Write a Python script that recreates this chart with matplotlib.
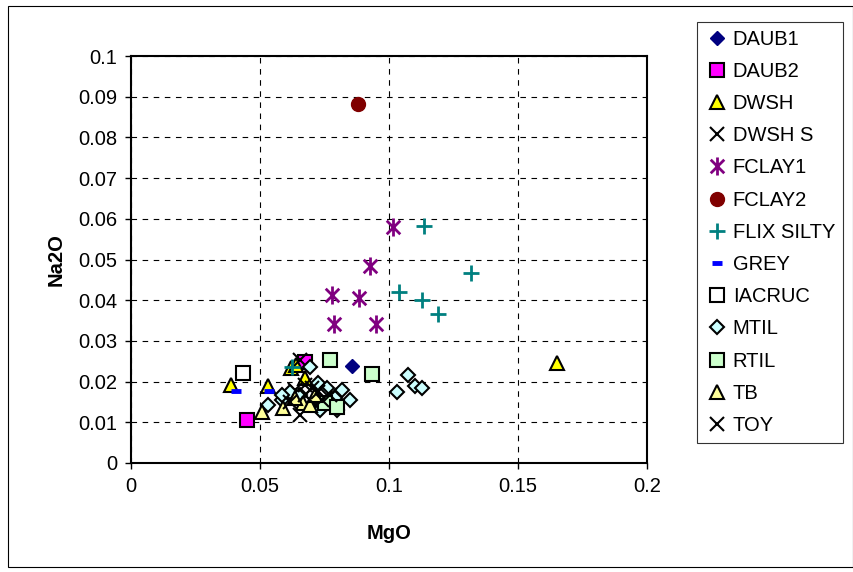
import matplotlib
matplotlib.use("Agg")
import matplotlib.pyplot as plt
from matplotlib.path import Path
from matplotlib.patches import Rectangle

plt.rcParams['font.family'] = ['Liberation Sans', 'DejaVu Sans']

# ---- data ----
daub1_x = [0.0857]
daub1_y = [0.0238]
daub2_x = [0.045, 0.0674]
daub2_y = [0.0106, 0.0248]
dwsh_x = [0.165, 0.0388, 0.0531, 0.0620, 0.0674, 0.0640]
dwsh_y = [0.0245, 0.0192, 0.0189, 0.0233, 0.0209, 0.0240]
dwshs_x = [0.0655, 0.0655, 0.0636, 0.0694, 0.0752, 0.0713]
dwshs_y = [0.0253, 0.0118, 0.0179, 0.0155, 0.0160, 0.0143]
fclay1_x = [0.1016, 0.0926, 0.0779, 0.0884, 0.0787, 0.0950]
fclay1_y = [0.0580, 0.0484, 0.0413, 0.0405, 0.0342, 0.0342]
fclay2_x = [0.088]
fclay2_y = [0.0882]
flix_x = [0.1136, 0.1318, 0.1039, 0.1128, 0.1190, 0.0624]
flix_y = [0.0583, 0.0467, 0.0420, 0.0400, 0.0366, 0.0236]
grey_x = [0.0407, 0.0535]
grey_y = [0.0177, 0.0177]
iacruc_x = [0.0434]
iacruc_y = [0.0221]
mtil_x = [0.0531, 0.0585, 0.0616, 0.0585, 0.0694, 0.0725, 0.0760, 0.0818, 0.0849,
          0.0791, 0.0798, 0.0733, 0.0655, 0.1074, 0.1101, 0.1128, 0.1031]
mtil_y = [0.0143, 0.0155, 0.0174, 0.0167, 0.0236, 0.0197, 0.0184, 0.0179, 0.0155,
          0.0160, 0.0130, 0.0130, 0.0167, 0.0216, 0.0189, 0.0184, 0.0174]
rtil_x = [0.0771, 0.0934, 0.0752, 0.0798]
rtil_y = [0.0253, 0.0219, 0.0147, 0.0138]
tb_x = [0.0508, 0.0589, 0.0667, 0.0694, 0.0636, 0.0713]
tb_y = [0.0125, 0.0135, 0.0147, 0.0143, 0.0160, 0.0167]
toy_x = [0.0674, 0.0725, 0.0616, 0.0771, 0.0674, 0.0700, 0.0740]
toy_y = [0.0167, 0.0174, 0.0150, 0.0167, 0.0192, 0.0185, 0.0155]

x_ticks = [0, 0.05, 0.1, 0.15, 0.2]
x_labels = ['0', '0.05', '0.1', '0.15', '0.2']
y_ticks = [0, 0.01, 0.02, 0.03, 0.04, 0.05, 0.06, 0.07, 0.08, 0.09, 0.1]
y_labels = ['0', '0.01', '0.02', '0.03', '0.04', '0.05', '0.06', '0.07', '0.08', '0.09', '0.1']

# asterisk marker: vertical line + two diagonals
star = Path([(0, -1), (0, 1), (-0.75, -0.75), (0.75, 0.75), (-0.75, 0.75), (0.75, -0.75)],
            [Path.MOVETO, Path.LINETO, Path.MOVETO, Path.LINETO, Path.MOVETO, Path.LINETO])

fig = plt.figure(figsize=(8.54, 5.72), dpi=100)
fig.patches.append(Rectangle((8/854, 1-567/572), 845/854, 561/572, transform=fig.transFigure,
                             fill=False, edgecolor='black', linewidth=0.8))
ax = fig.add_axes([131/854, 1-463/572, 516/854, 407/572])

mew = 1.5
ax.plot(daub1_x, daub1_y, ls='none', marker='D', ms=7.5, mfc='#000080', mec='#000080', label='DAUB1')
ax.plot(daub2_x, daub2_y, ls='none', marker='s', ms=9.5, mfc='#FF00FF', mec='black', mew=mew, label='DAUB2')
ax.plot(dwsh_x, dwsh_y, ls='none', marker='^', ms=10, mfc='#FFFF00', mec='black', mew=mew, label='DWSH')
ax.plot(dwshs_x, dwshs_y, ls='none', marker='x', ms=10, mec='black', mew=1.5, label='DWSH S')
ax.plot(fclay1_x, fclay1_y, ls='none', marker=star, ms=13, mec='#800080', mew=2, label='FCLAY1')
ax.plot(fclay2_x, fclay2_y, ls='none', marker='o', ms=10, mfc='#800000', mec='#800000', label='FCLAY2')
ax.plot(flix_x, flix_y, ls='none', marker='+', ms=11, mec='#008080', mew=2, label='FLIX SILTY')
ax.plot(grey_x, grey_y, ls='none', marker='_', ms=7, mec='#0000FF', mew=3.5, label='GREY')
ax.plot(iacruc_x, iacruc_y, ls='none', marker='s', ms=9.5, mfc='white', mec='black', mew=mew, label='IACRUC')
ax.plot(mtil_x, mtil_y, ls='none', marker='D', ms=7, mfc='#CCFFFF', mec='black', mew=mew, label='MTIL')
ax.plot(rtil_x, rtil_y, ls='none', marker='s', ms=9.5, mfc='#CCFFCC', mec='black', mew=mew, label='RTIL')
ax.plot(tb_x, tb_y, ls='none', marker='^', ms=10, mfc='#FFFF99', mec='black', mew=mew, label='TB')
ax.plot(toy_x, toy_y, ls='none', marker='x', ms=10, mec='black', mew=1.5, label='TOY')

ax.set_xlim(0, 0.2)
ax.set_ylim(0, 0.1)
ax.set_xticks(x_ticks)
ax.set_xticklabels(x_labels)
ax.set_yticks(y_ticks)
ax.set_yticklabels(y_labels)
ax.grid(True, color='black', linestyle=(0, (5, 5)), linewidth=0.8)
ax.set_axisbelow(True)
for s in ax.spines.values():
    s.set_linewidth(1.5)
    s.set_color('black')
ax.tick_params(direction='out', length=4, width=1, labelsize=14.5, pad=6)
ax.set_xlabel('MgO', fontsize=14.5, fontweight='bold', labelpad=20)
ax.set_ylabel('Na2O', fontsize=14.5, fontweight='bold', labelpad=9)

leg = ax.legend(loc='upper left', bbox_to_anchor=(697/854, 1-22/572), bbox_transform=fig.transFigure,
                frameon=True, fancybox=False, fontsize=14.5, handlelength=1.2, handletextpad=0.2,
                labelspacing=0.655, borderpad=0.38, borderaxespad=0, numpoints=1)
leg.get_frame().set_edgecolor('black')
leg.get_frame().set_linewidth(0.8)

fig.savefig('out.png', dpi=100)
